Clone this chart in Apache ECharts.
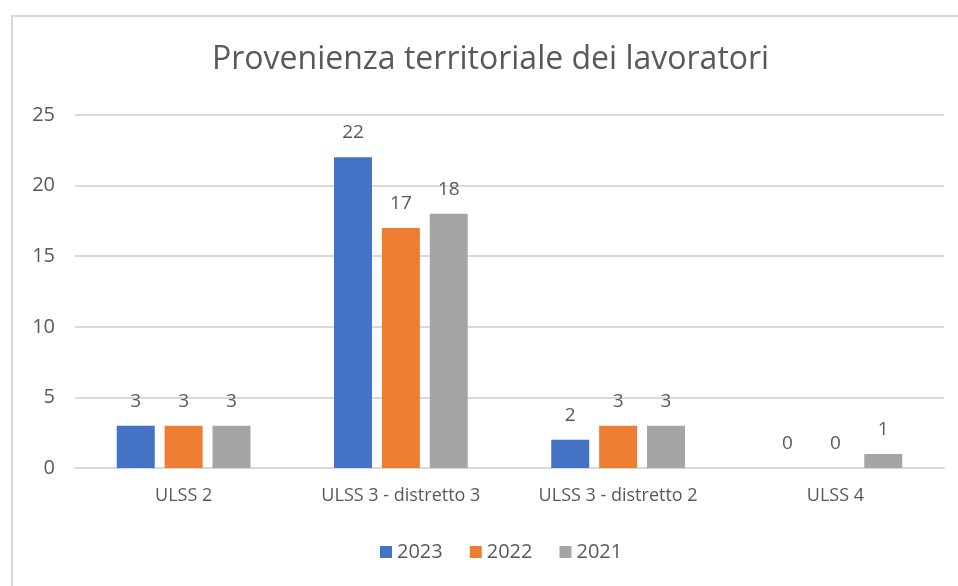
<!DOCTYPE html>
<html>
<head>
<meta charset="utf-8">
<script src="https://cdn.jsdelivr.net/npm/echarts@6/dist/echarts.min.js"></script>
<style>
    html, body { margin: 0; padding: 0; background: #fff; }
    #frame {
        position: absolute;
        left: 11px;
        top: 15px;
        width: 947px;
        height: 571px;
        border-top: 2px solid #d9d9d9;
        border-left: 2px solid #d9d9d9;
    }
    #bar-chart { position: absolute; left: 0; top: 0; width: 958px; height: 586px; }
</style>
</head>
<body>
<div id="frame"></div>
<div id="bar-chart"></div>
<script>
// dati
const categories = ['ULSS 2', 'ULSS 3 - distretto 3', 'ULSS 3 - distretto 2', 'ULSS 4'];
const years = ['2023', '2022', '2021'];
const values2023 = [3, 22, 2, 0];
const values2022 = [3, 17, 3, 0];
const values2021 = [3, 18, 3, 1];
const colors = ['#4472c4', '#ed7d31', '#a5a5a5'];

const fontFam = '"Open Sans", "Noto Sans", sans-serif';
const textCol = '#595959';

const chart = echarts.init(document.getElementById('bar-chart'));

const makeSeries = (name, data, color) => ({
    name: name,
    type: 'bar',
    barWidth: 38,
    barGap: '26%',
    itemStyle: { color: color },
    label: {
        show: true,
        position: 'top',
        distance: 15,
        color: textCol,
        fontSize: 19,
        fontFamily: fontFam
    },
    data: data
});

const option = {
    backgroundColor: 'transparent',
    color: colors,
    title: {
        text: 'Provenienza territoriale dei lavoratori',
        left: 207,
        top: 39,
        textStyle: {
            color: textCol,
            fontSize: 32,
            fontWeight: 'normal',
            fontFamily: fontFam
        }
    },
    legend: {
        bottom: 19,
        left: 375,
        itemWidth: 12,
        itemHeight: 12,
        itemGap: 27,
        icon: 'rect',
        data: years,
        textStyle: { color: textCol, fontSize: 20, fontFamily: fontFam }
    },
    grid: {
        left: 75,
        right: 14,
        top: 115,
        bottom: 118
    },
    xAxis: {
        type: 'category',
        data: categories,
        axisLine: { lineStyle: { color: '#d9d9d9', width: 2 } },
        axisTick: { show: false },
        axisLabel: {
            interval: 0,
            color: textCol,
            fontSize: 18,
            fontFamily: fontFam,
            margin: 19
        }
    },
    yAxis: {
        type: 'value',
        min: 0,
        max: 25,
        interval: 5,
        axisLine: { show: false },
        axisTick: { show: false },
        splitLine: { lineStyle: { color: '#d9d9d9', width: 2 } },
        axisLabel: {
            color: textCol,
            fontSize: 20,
            fontFamily: fontFam,
            margin: 20
        }
    },
    series: [
        makeSeries(years[0], values2023, colors[0]),
        makeSeries(years[1], values2022, colors[1]),
        makeSeries(years[2], values2021, colors[2])
    ]
};

chart.setOption(option);
window.addEventListener('resize', () => chart.resize());
</script>
</body>
</html>
